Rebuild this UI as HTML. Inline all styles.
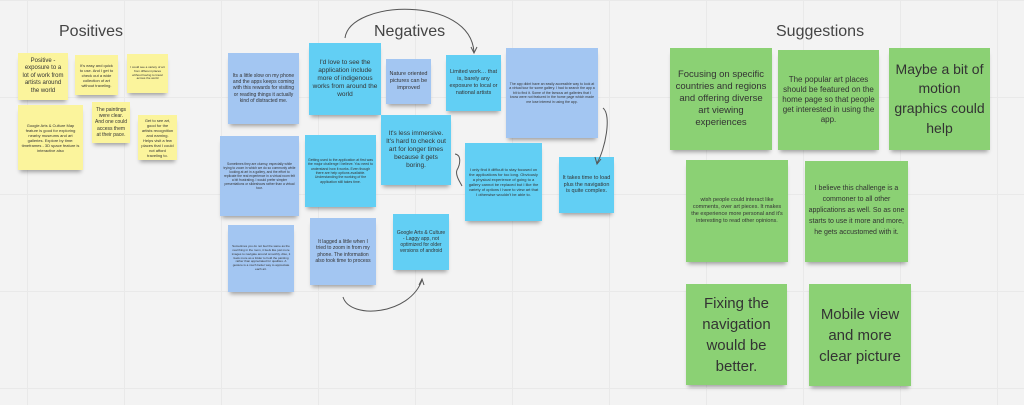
<!DOCTYPE html>
<html><head><meta charset="utf-8"><style>
html,body{margin:0;padding:0}
body{width:1024px;height:405px;overflow:hidden;position:relative;background:#f3f3f3;font-family:"Liberation Sans",sans-serif;
background-image:linear-gradient(to right,#e9e9e9 1px,transparent 1px),linear-gradient(to bottom,#e9e9e9 1px,transparent 1px);background-size:97px 97px;background-position:27px 0}
.n{position:absolute;display:flex;align-items:center;justify-content:center;text-align:center;color:#333;box-sizing:border-box;padding:3px;line-height:1.25;box-shadow:0 4px 4px -2px rgba(0,0,0,.35)}
.y{background:#fbf49c}
.b{background:#a3c6f2}
.c{background:#62cff4}
.g{background:#8bd174}
.t{position:absolute;font-size:16px;color:#444}
</style></head><body>
<div class="t" style="left:59px;top:23px">Positives</div>
<div class="t" style="left:374px;top:23px">Negatives</div>
<div class="t" style="left:776px;top:23px">Suggestions</div>

<div class="n y" style="left:18px;top:53px;width:50px;height:47px;font-size:6px">Positive - exposure to a lot of work from artists around the world</div>
<div class="n y" style="left:75px;top:55px;width:43px;height:40px;font-size:4px">It's easy and quick to use. And I get to check out a wide collection of art without traveling.</div>
<div class="n y" style="left:127px;top:54px;width:41px;height:39px;font-size:3px">I could see a variety of art from different places without having to travel across the world</div>
<div class="n y" style="left:18px;top:105px;width:65px;height:65px;font-size:4px">Google Arts &amp; Culture Map feature is good for exploring nearby museums and art galleries. Explore by time: timeframes - 3D space feature is interactive also</div>
<div class="n y" style="left:92px;top:102px;width:38px;height:41px;font-size:5px">The paintings were clear. And one could access them at their pace.</div>
<div class="n y" style="left:138px;top:115px;width:39px;height:45px;font-size:4px">Get to see art, good for the artists recognition and earning. Helps visit a few places that I could not afford traveling to.</div>

<div class="n b" style="left:228px;top:53px;width:71px;height:71px;font-size:5px">Its a little slow on my phone and the apps keeps coming with this rewards for visiting or reading things it actually kind of distracted me.</div>
<div class="n c" style="left:309px;top:43px;width:72px;height:72px;font-size:6.5px">I'd love to see the application include more of indigenous works from around the world</div>
<div class="n b" style="left:386px;top:59px;width:45px;height:45px;font-size:5.5px">Nature oriented pictures can be improved</div>
<div class="n c" style="left:446px;top:55px;width:55px;height:56px;font-size:5.5px">Limited work… that is, barely any exposure to local or national artists</div>
<div class="n b" style="left:506px;top:48px;width:92px;height:90px;font-size:3.5px">The app didnt have an easily accessible way to look at a virtual tour for some gallery. I had to search the app a bit to find it. Some of the famous art galleries that I know were not featured in the home page which made me lose interest in using the app.</div>
<div class="n c" style="left:381px;top:115px;width:70px;height:70px;font-size:6.5px">It's less immersive. It's hard to check out art for longer times because it gets boring.</div>
<div class="n b" style="left:220px;top:136px;width:79px;height:80px;font-size:3.3px">Sometimes they are clumsy, especially while trying to zoom in which we do so commonly while looking at art in a gallery, and the effort to replicate the real experience in a virtual room felt a bit frustrating. I would prefer simpler presentations or slideshows rather than a virtual tour.</div>
<div class="n c" style="left:305px;top:135px;width:71px;height:72px;font-size:3.5px">Getting used to the application at first was the major challenge I believe. You need to understand how it works. Even though there are help options available. Understanding the working of the application still takes time.</div>
<div class="n c" style="left:465px;top:143px;width:77px;height:78px;font-size:4px">I only find it difficult to stay focused on the applications for too long. Obviously a physical experience of going to a gallery cannot be replaced but I like the variety of options I have to view art that I otherwise wouldn't be able to.</div>
<div class="n c" style="left:559px;top:157px;width:55px;height:56px;font-size:5.5px">It takes time to load plus the navigation is quite complex.</div>
<div class="n b" style="left:228px;top:225px;width:66px;height:67px;font-size:3px">Sometimes you do not feel the same as the real thing in the room, it feels like just more images to navigate around smoothly. Also, it feels more as a folder to hold the painting rather than appreciated for qualities. A gesture is a much better way to appreciate each art.</div>
<div class="n b" style="left:310px;top:218px;width:66px;height:67px;font-size:5px">It lagged a little when I tried to zoom in from my phone. The information also took time to process</div>
<div class="n c" style="left:393px;top:214px;width:56px;height:56px;font-size:5px">Google Arts &amp; Culture - Laggy app, not optimized for older versions of android</div>

<div class="n g" style="left:670px;top:48px;width:102px;height:102px;font-size:9.5px">Focusing on specific countries and regions and offering diverse art viewing experiences</div>
<div class="n g" style="left:778px;top:50px;width:101px;height:100px;font-size:8px">The popular art places should be featured on the home page so that people get interested in using the app.</div>
<div class="n g" style="left:889px;top:48px;width:101px;height:102px;font-size:14px;line-height:1.4">Maybe a bit of motion graphics could help</div>
<div class="n g" style="left:686px;top:160px;width:102px;height:102px;font-size:5.5px">wish people could interact like comments, over art pieces. It makes the experience more personal and it's interesting to read other opinions.</div>
<div class="n g" style="left:805px;top:161px;width:103px;height:101px;font-size:7px;line-height:1.55">I believe this challenge is a commoner to all other applications as well. So as one starts to use it more and more, he gets accustomed with it.</div>
<div class="n g" style="left:686px;top:284px;width:101px;height:101px;font-size:15px;line-height:1.4">Fixing the navigation would be better.</div>
<div class="n g" style="left:809px;top:284px;width:102px;height:102px;font-size:15px;line-height:1.4">Mobile view and more clear picture</div>

<svg width="1024" height="405" style="position:absolute;left:0;top:0" fill="none" stroke="#555" stroke-width="1">
<path d="M345 38 C350 0 470 -5 474 52"/><path d="M471 47 L474 53 L477 47"/>
<path d="M603 108 C612 115 605 150 597 163"/><path d="M595 157 L597 164 L601 159"/>
<path d="M455 154 C462 155 460 165 457 170 C455 175 460 182 462 186"/>
<path d="M343 297 C350 320 410 315 422 280"/><path d="M419 285 L422 279 L424 285"/>
</svg>
</body></html>
